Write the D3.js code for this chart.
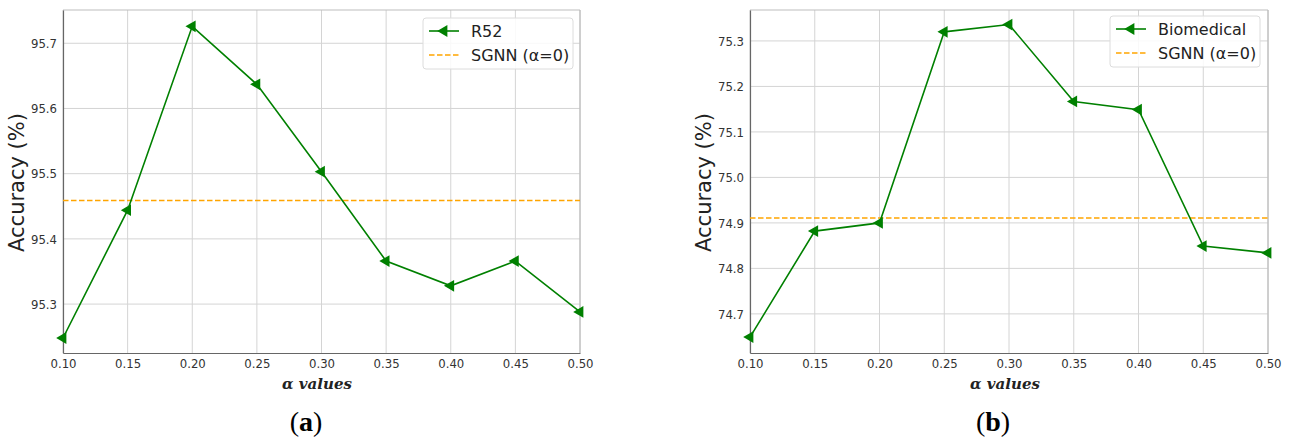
<!DOCTYPE html>
<html><head><meta charset="utf-8">
<script src="https://cdn.jsdelivr.net/npm/d3@7"></script>
<style>
html,body{margin:0;padding:0;background:#fff;}
svg{display:block;}
</style></head>
<body>
<svg id="chart" width="1289" height="439"></svg>
<script>
const alphas = [0.10, 0.15, 0.20, 0.25, 0.30, 0.35, 0.40, 0.45, 0.50];
const xTickLabels = ["0.10","0.15","0.20","0.25","0.30","0.35","0.40","0.45","0.50"];
const r52Values = [95.248, 95.444, 95.726, 95.637, 95.503, 95.366, 95.328, 95.366, 95.288];
const r52Baseline = 95.459;
const r52YTicks = [95.3, 95.4, 95.5, 95.6, 95.7];
const bioValues = [74.649, 74.882, 74.900, 75.320, 75.336, 75.167, 75.149, 74.849, 74.834];
const bioBaseline = 74.911;
const bioYTicks = [74.7, 74.8, 74.9, 75.0, 75.1, 75.2, 75.3];
const seriesNames = ["R52", "Biomedical"];
const baselineName = "SGNN (\u03b1=0)";
const captions = ["a", "b"];

const svg = d3.select("#chart");
const GREEN = "#008000", ORANGE = "#FFA500";
const tickFont = "'DejaVu Sans Condensed','DejaVu Sans',sans-serif";

function panel(cfg) {
  const g = svg.append("g");
  const x = d3.scaleLinear().domain([0.10, 0.50]).range([cfg.x0, cfg.x1]);
  const y = d3.scaleLinear().domain(cfg.yDomain).range([cfg.y1, cfg.y0]);

  // grid
  g.append("g").selectAll("line").data(alphas).join("line")
    .attr("x1", d => x(d)).attr("x2", d => x(d))
    .attr("y1", cfg.y0).attr("y2", cfg.y1)
    .attr("stroke", "#d4d4d4").attr("stroke-width", 1);
  g.append("g").selectAll("line").data(cfg.yTicks).join("line")
    .attr("x1", cfg.x0).attr("x2", cfg.x1)
    .attr("y1", d => y(d)).attr("y2", d => y(d))
    .attr("stroke", "#d4d4d4").attr("stroke-width", 1);

  // spines
  g.append("line").attr("x1", cfg.x0).attr("x2", cfg.x1).attr("y1", cfg.y0).attr("y2", cfg.y0).attr("stroke", "#bdbdbd").attr("stroke-width", 1.2);
  g.append("line").attr("x1", cfg.x1).attr("x2", cfg.x1).attr("y1", cfg.y0).attr("y2", cfg.y1).attr("stroke", "#bdbdbd").attr("stroke-width", 1.2);

  // axes
  const xAxis = d3.axisBottom(x).tickValues(alphas).tickFormat((d, i) => xTickLabels[i]).tickSize(0).tickPadding(6);
  const gx = g.append("g").attr("transform", `translate(0,${cfg.y1})`).call(xAxis);
  gx.select(".domain").attr("stroke", "#666").attr("stroke-width", 1.2);
  gx.selectAll("text").attr("font-family", tickFont).attr("font-size", 13).attr("fill", "#333");

  const yAxis = d3.axisLeft(y).tickValues(cfg.yTicks).tickFormat(d3.format(".1f")).tickSize(0).tickPadding(6);
  const gy = g.append("g").attr("transform", `translate(${cfg.x0},0)`).call(yAxis);
  gy.select(".domain").attr("stroke", "#666").attr("stroke-width", 1.2);
  gy.selectAll("text").attr("font-family", tickFont).attr("font-size", 13).attr("fill", "#333");

  // baseline
  g.append("line").attr("x1", cfg.x0).attr("x2", cfg.x1)
    .attr("y1", y(cfg.baseline)).attr("y2", y(cfg.baseline))
    .attr("stroke", ORANGE).attr("stroke-width", 1.5).attr("stroke-dasharray", "5.5,2.5");

  // series line
  const line = d3.line().x((d, i) => x(alphas[i])).y(d => y(d));
  g.append("path").datum(cfg.values).attr("d", line)
    .attr("fill", "none").attr("stroke", GREEN).attr("stroke-width", 1.6);

  const tri = d3.symbol().type(d3.symbolTriangle).size(60);
  g.append("g").selectAll("path").data(cfg.values).join("path")
    .attr("d", tri)
    .attr("transform", (d, i) => `translate(${x(alphas[i])},${y(d)}) rotate(-90)`)
    .attr("fill", GREEN);

  // y label
  g.append("text")
    .attr("transform", `translate(${cfg.ylabX},${(cfg.y0 + cfg.y1) / 2 + 1}) rotate(-90)`)
    .attr("text-anchor", "middle").attr("dominant-baseline", "middle")
    .attr("font-family", "'DejaVu Sans',sans-serif").attr("font-size", 21).attr("fill", "#222")
    .text("Accuracy (%)");

  // x label
  g.append("text")
    .attr("x", cfg.xlabX).attr("y", 389)
    .attr("text-anchor", "middle")
    .attr("font-family", "'DejaVu Serif','Liberation Serif',serif").attr("font-size", 15)
    .attr("font-style", "italic").attr("font-weight", "bold").attr("fill", "#222")
    .text("\u03b1 values");

  // caption
  const cap = g.append("text")
    .attr("x", cfg.capX).attr("y", 431)
    .attr("text-anchor", "middle")
    .attr("font-family", "'Liberation Serif','DejaVu Serif',serif").attr("font-size", 28).attr("fill", "#000");
  cap.append("tspan").text("(");
  cap.append("tspan").attr("font-weight", "bold").text(cfg.caption);
  cap.append("tspan").text(")");

  // legend
  const lg = g.append("g").attr("transform", `translate(${cfg.legX},${cfg.legY})`);
  lg.append("rect").attr("x", 0).attr("y", 0).attr("width", cfg.legW).attr("height", 51)
    .attr("rx", 3).attr("fill", "#fff").attr("fill-opacity", 0.85)
    .attr("stroke", "#dcdcdc").attr("stroke-width", 1);
  lg.append("line").attr("x1", 6).attr("x2", 36).attr("y1", 13).attr("y2", 13)
    .attr("stroke", GREEN).attr("stroke-width", 1.6);
  lg.append("path").attr("d", tri).attr("transform", "translate(21,13) rotate(-90)").attr("fill", GREEN);
  lg.append("line").attr("x1", 6).attr("x2", 36).attr("y1", 37).attr("y2", 37)
    .attr("stroke", ORANGE).attr("stroke-width", 1.5).attr("stroke-dasharray", "5.5,2.5");
  lg.append("text").attr("x", 48).attr("y", 13).attr("dominant-baseline", "central")
    .attr("font-family", "'DejaVu Sans',sans-serif").attr("font-size", 16).attr("fill", "#222")
    .text(cfg.name);
  lg.append("text").attr("x", 48).attr("y", 37).attr("dominant-baseline", "central")
    .attr("font-family", "'DejaVu Sans',sans-serif").attr("font-size", 16).attr("fill", "#222")
    .text(baselineName);
}

panel({x0: 63, x1: 580, y0: 10, y1: 353, yDomain: [95.225, 95.751], yTicks: r52YTicks,
  values: r52Values, baseline: r52Baseline, name: seriesNames[0], caption: captions[0],
  ylabX: 18, legX: 423, legY: 18, legW: 150, xlabX: 317, capX: 306});
panel({x0: 750, x1: 1268, y0: 10, y1: 353, yDomain: [74.614, 75.368], yTicks: bioYTicks,
  values: bioValues, baseline: bioBaseline, name: seriesNames[1], caption: captions[1],
  ylabX: 705, legX: 1110, legY: 16, legW: 150, xlabX: 1005, capX: 993});
</script>
</body></html>
